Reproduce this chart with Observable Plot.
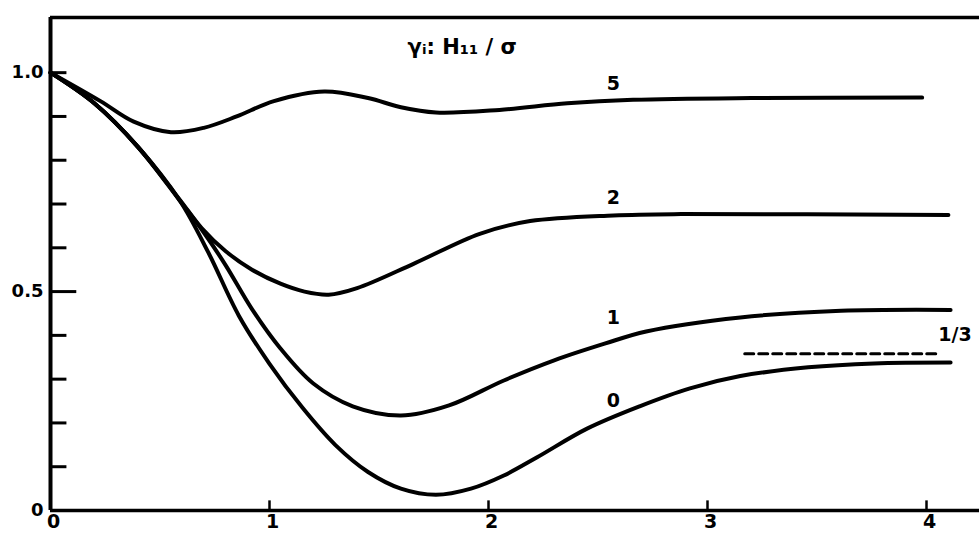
<!DOCTYPE html>
<html>
<head>
<meta charset="utf-8">
<script src="https://cdn.jsdelivr.net/npm/d3@7"></script>
<script src="https://cdn.jsdelivr.net/npm/@observablehq/plot@0.6"></script>
<style>
  html, body { margin: 0; padding: 0; background: #fff; }
  svg { display: block; }
</style>
</head>
<body>
<div id="chart"></div>
<script>
// Series values (x, value)
const curve0 = [[0,1.0],[0.2,0.93],[0.4,0.83],[0.59,0.708],[0.72,0.59],[0.86,0.445],[1.0,0.335],[1.15,0.235],[1.3,0.15],[1.45,0.088],[1.6,0.05],[1.76,0.036],[1.92,0.05],[2.07,0.08],[2.22,0.121],[2.45,0.187],[2.69,0.238],[2.92,0.279],[3.15,0.307],[3.46,0.327],[3.76,0.336],[4.11,0.338]];
const curve1 = [[0,1.0],[0.2,0.93],[0.4,0.83],[0.59,0.708],[0.7,0.635],[0.8,0.56],[0.92,0.46],[1.05,0.37],[1.2,0.29],[1.38,0.238],[1.6,0.217],[1.82,0.24],[2.07,0.297],[2.30,0.343],[2.53,0.381],[2.72,0.409],[3.15,0.441],[3.61,0.456],[4.11,0.458]];
const curve2 = [[0,1.0],[0.2,0.93],[0.4,0.83],[0.59,0.71],[0.69,0.645],[0.8,0.592],[0.92,0.55],[1.05,0.518],[1.16,0.5],[1.27,0.493],[1.4,0.508],[1.66,0.564],[1.96,0.632],[2.19,0.661],[2.57,0.674],[2.88,0.677],[4.10,0.675]];
const curve5 = [[0,1.0],[0.228,0.935],[0.38,0.888],[0.55,0.864],[0.7,0.874],[0.85,0.9],[1.02,0.935],[1.25,0.957],[1.45,0.942],[1.6,0.921],[1.76,0.909],[2.05,0.915],[2.36,0.93],[2.66,0.938],[3.2,0.942],[3.98,0.943]];
const oneThirdLine = [[3.17,0.358],[4.06,0.358]];

// Curve labels (name, x, y)
const curveLabels = [["5",2.57,0.975],["2",2.57,0.713],["1",2.57,0.44],["0",2.57,0.251],["1/3",4.13,0.40]];
const titleText = [["γᵢ: H₁₁ / σ",1.88,1.058]];

// Axes
const xDomain = [0, 4.242];
const yDomain = [0, 1.126];
const xTickMarks = [1, 2, 3, 4];
const xTickLabels = [0, 1, 2, 3, 4];
const yTickMarks = [0.1, 0.2, 0.3, 0.4, 0.6, 0.7, 0.8, 0.9, 1.0];
const yMajorTick = [0.5];
const yTickLabels = [[0, "0"], [0.5, "0.5"], [1.0, "1.0"]];

const series = [curve0, curve1, curve2, curve5];
const font = "DejaVu Sans";

const lineMarks = series.map(s => Plot.line(s, {x: d => d[0], y: d => d[1], stroke: "#000", strokeWidth: 4, curve: "catmull-rom", strokeLinecap: "round"}));

const chart = Plot.plot({
  width: 979,
  height: 537,
  marginLeft: 50,
  marginRight: 0,
  marginTop: 17,
  marginBottom: 27,
  x: {domain: xDomain, axis: null},
  y: {domain: yDomain, axis: null},
  style: {background: "#fff", fontFamily: font},
  marks: [
    // frame lines
    Plot.ruleY([yDomain[0]], {stroke: "#000", strokeWidth: 3.5}),
    Plot.ruleY([yDomain[1]], {stroke: "#000", strokeWidth: 3.5}),
    Plot.ruleX([xDomain[0]], {stroke: "#000", strokeWidth: 4}),
    // tick marks
    Plot.ruleX(xTickMarks, {x: d => d, y1: 0, y2: 0.022, stroke: "#000", strokeWidth: 2.5}),
    Plot.ruleY(yTickMarks, {y: d => d, x1: 0, x2: 0.075, stroke: "#000", strokeWidth: 3}),
    Plot.ruleY(yMajorTick, {y: d => d, x1: 0, x2: 0.12, stroke: "#000", strokeWidth: 3}),
    // tick labels
    Plot.text(xTickLabels, {x: d => d, frameAnchor: "bottom", dy: 17, dx: 3, text: d => String(d), fontSize: 19, fontWeight: "bold", fill: "#000"}),
    Plot.text(yTickLabels, {y: d => d[0], frameAnchor: "left", dx: -7, textAnchor: "end", text: d => d[1], fontSize: 18, fontWeight: "bold", fill: "#000"}),
    // curves
    ...lineMarks,
    Plot.line(oneThirdLine, {x: d => d[0], y: d => d[1], stroke: "#000", strokeWidth: 3, strokeDasharray: "9,5"}),
    // labels
    Plot.text(curveLabels, {x: d => d[1], y: d => d[2], text: d => d[0], fontSize: 19, fontWeight: "bold", fill: "#000"}),
    Plot.text(titleText, {x: d => d[1], y: d => d[2], text: d => d[0], fontSize: 21, fontWeight: "bold", fill: "#000"})
  ]
});
document.getElementById("chart").appendChild(chart);
</script>
</body>
</html>
